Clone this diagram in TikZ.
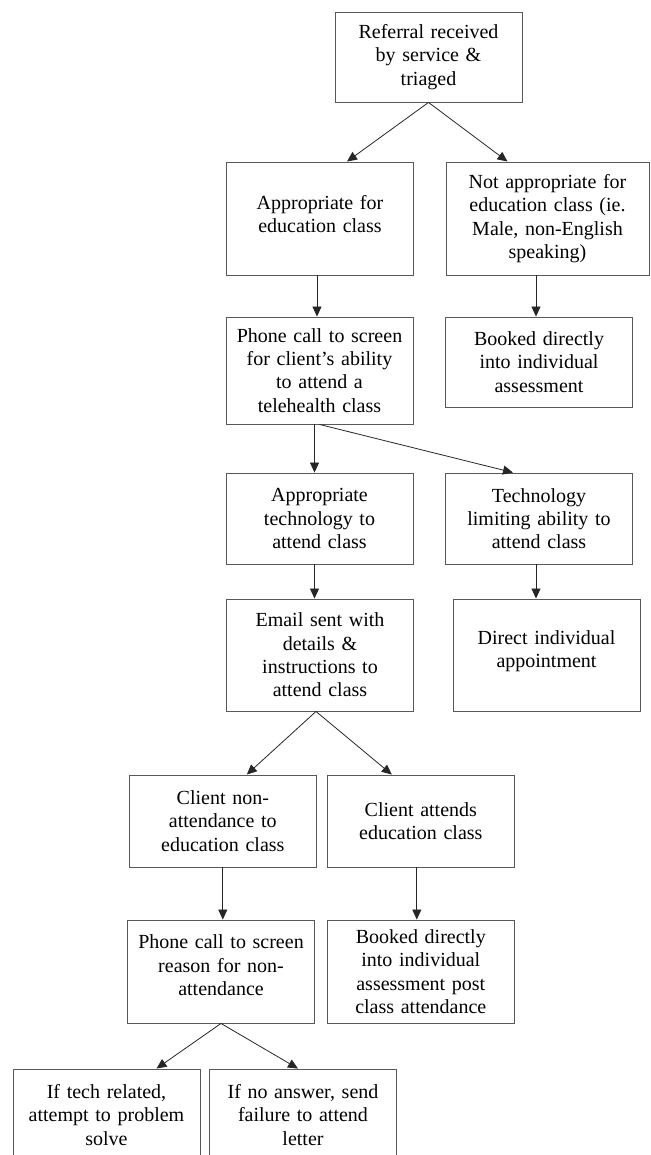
\documentclass[tikz,border=0pt]{standalone}
\usepackage{fontspec}
\setmainfont{Liberation Serif}
\usepackage{tikz}
\usetikzlibrary{arrows.meta,calc,positioning}

\begin{document}
\begin{tikzpicture}[x=1pt,y=-1pt,
  flowbox/.style={draw=black!65,line width=0.9pt,inner sep=0pt,align=center,
    text width=182pt,minimum width=187pt,minimum height=#1,
    font=\fontsize{20}{23.3}\selectfont},
  flowbox/.default=91pt,
  arr/.style={-{Triangle[length=10pt,width=9pt]},line width=0.8pt,black!85}]
\useasboundingbox (0,0) rectangle (650,1155);
\node[flowbox=90pt] (referral) at (428.5,57) {Referral received\\by service \&\\triaged};
\node[flowbox=113pt] (approp) at (320,218.5) {Appropriate for\\education class\\[-14pt]\mbox{}};
\node[flowbox=113pt,minimum width=203pt] (notapprop) at (547.5,218.5) {Not appropriate for\\education class (ie.\\Male, non-English\\speaking)};
\node[flowbox=107pt] (screen) at (319.5,370.5) {Phone call to screen\\for client’s ability\\to attend a\\telehealth class};
\node[flowbox=90pt] (booked) at (539,362) {Booked directly\\into individual\\assessment};
\node[flowbox] (techok) at (319.5,518.5) {Appropriate\\technology to\\attend class};
\node[flowbox] (techlim) at (539,518.5) {Technology\\limiting ability to\\attend class};
\node[flowbox=112pt] (email) at (320,655) {Email sent with\\details \&\\instructions to\\attend class};
\node[flowbox=112pt] (direct) at (546.5,655) {Direct individual\\appointment\\[-11pt]\mbox{}};
\node[flowbox=92pt] (nonattend) at (222.8,821) {Client non-\\attendance to\\education class};
\node[flowbox=92pt] (attends) at (420.8,821) {Client attends\\education class};
\node[flowbox=103pt] (reason) at (221,971.5) {Phone call to screen\\reason for non-\\attendance\\[-11pt]\mbox{}};
\node[flowbox=103pt] (postclass) at (420.8,971.5) {Booked directly\\into individual\\assessment post\\class attendance};
\node[flowbox=92pt] (techsolve) at (106.5,1115) {If tech related,\\attempt to problem\\solve};
\node[flowbox=92pt] (noanswer) at (303,1115) {If no answer, send\\failure to attend\\letter};
% connectors
\draw[arr] (referral.south) -- ($(approp.north)+(27,0)$);
\draw[arr] (referral.south) -- ($(notapprop.north)+(-40,0)$);
\draw[arr] ([xshift=-3pt]approp.south) -- ([xshift=-3pt]approp.south |- screen.north);
\draw[arr] ([xshift=-3pt]booked.north |- notapprop.south) -- ([xshift=-3pt]booked.north);
\draw[arr] ([xshift=-5pt]screen.south) -- ([xshift=-5pt]techok.north);
\draw[arr] (screen.south) -- ($(techlim.north)+(-26,0)$);
\draw[arr] ([xshift=-5pt]techok.south) -- ([xshift=-5pt]techok.south |- email.north);
\draw[arr] ([xshift=-3pt]techlim.south) -- ([xshift=-3pt]techlim.south |- direct.north);
\draw[arr] ([xshift=-4pt]email.south) -- ($(nonattend.north)+(24,0)$);
\draw[arr] ([xshift=-4pt]email.south) -- ($(attends.north)+(-29,0)$);
\draw[arr] (nonattend.south) -- (nonattend.south |- reason.north);
\draw[arr] ([xshift=-4pt]attends.south) -- ([xshift=-4pt]postclass.north);
\draw[arr] (reason.south) -- ($(techsolve.north)+(50,0)$);
\draw[arr] (reason.south) -- ($(noanswer.north)+(-5,0)$);
\end{tikzpicture}
\end{document}
